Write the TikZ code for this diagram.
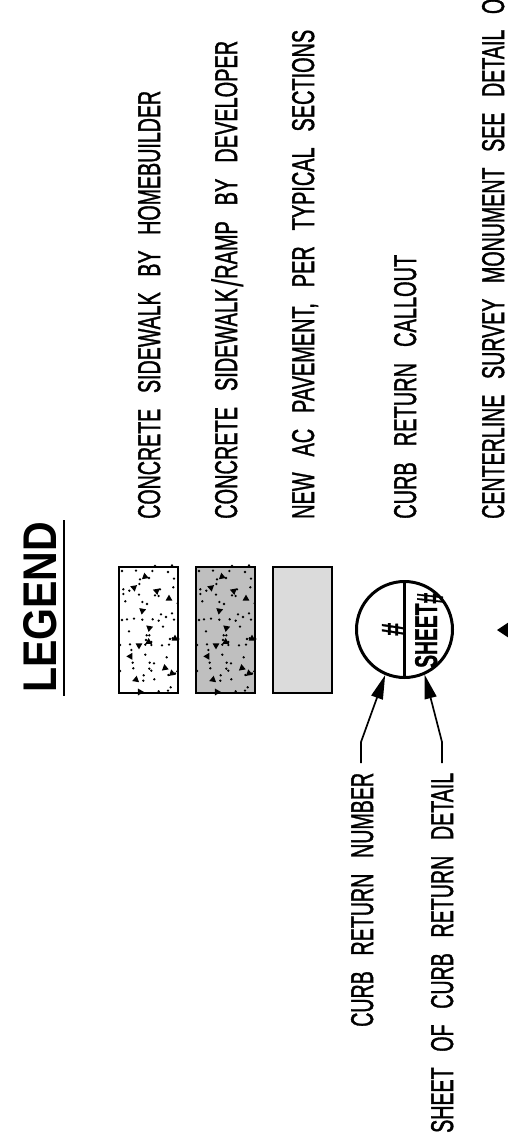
\documentclass[tikz,border=0pt]{standalone}
\usepackage{graphicx}
\usepackage{fontspec}
\usetikzlibrary{arrows.meta}
\setmainfont{Liberation Sans}[UprightFeatures={FakeBold=1.6},BoldFeatures={FakeBold=1.2}]
\newfontfamily\titlefont{Liberation Sans}
\newcommand{\cadtext}[3]{\resizebox{#1pt}{#2pt}{\spaceskip=.8em\relax #3}}
\newcommand{\stipple}{%
  \foreach \px/\py in {36/33,78/32,127/33,174/36,135/18,186/16,192/56,90/58,88/72,40/88,58/92,40/102,87/104,190/82,46/124,97/126,111/132,36/180,51/178,72/176,97/179,128/178,146/182,153/163,168/171,186/160,192/179,57/214,159/200,110/226,118/226,106/284,60/253,64/270,156/256,177/254,170/292,68/308,70/325,119/308,132/310,118/326,124/332,101/346,100/362,133/358,175/345,182/382,174/392,146/394,203/130,30/255,30/333,202/334,188/235,180/237,205/237,195/340,117/54,150/88,146/108,135/106,86/260,124/246,108/240,124/255,106/254}
    {\fill[grain] (\px,\py) circle (3.8);}
  \foreach \px/\py/\pr in {105/50/20,72/83/80,140/93/200,177/116/-90,97/152/-20,118/204/100,116/246/150,87/256/-30,195/236/30,61/289/-60,165/324/-100,186/340/20,78/359/40,90/396/0}
    {\fill[grain] ([shift={(\px,\py)}]\pr:12) -- ([shift={(\px,\py)}]\pr+120:12) -- ([shift={(\px,\py)}]\pr+240:12) -- cycle;}
}
\tikzset{
  legendbox/.style={draw=black,line width=1.7pt,minimum width=59pt,minimum height=126pt,inner sep=0pt},
  rottext/.style={rotate=90,anchor=base west,inner sep=0pt,text=black},
  grain/.style={black},
  leader/.style={draw=black,line width=1.7pt,-{Triangle[length=24pt,width=12pt]}},
  callout/.style={circle,draw=black,line width=3pt,minimum size=96pt,inner sep=0pt},
}
\begin{document}
\begin{tikzpicture}[x=1pt,y=-1pt]
\useasboundingbox (0,0) rectangle (508,1143);
\fill[white] (0,0) rectangle (508,1143);
\clip (0,0) rectangle (508,1143);

% title
\node[rottext] (title) at (56,693) {\cadtext{171}{33}{\titlefont\bfseries LEGEND}};
\draw[line width=2.2pt] (64,520) -- (64,696);

% swatches
\node[legendbox,fill=white] (swatchA) at (148.5,630) {};
\node[legendbox,fill=black!25] (swatchB) at (225.5,630) {};
\node[legendbox,fill=black!14] (swatchC) at (302.5,630) {};
\begin{scope}[shift={(110,560)},x=0.3333pt,y=-0.3333pt]
  \stipple
\end{scope}
\begin{scope}[shift={(187,560)},x=0.3333pt,y=-0.3333pt]
  \stipple
\end{scope}

% legend texts
\node[rottext] (txtA) at (160,519) {\cadtext{428}{22}{CONCRETE SIDEWALK BY HOMEBUILDER}};
\node[rottext] (txtB) at (237,519) {\cadtext{478}{22}{CONCRETE SIDEWALK\kern.4pt\smash{\raisebox{-2pt}{\scalebox{1.5}[1.4]{\titlefont /}}}\kern.4pt RAMP BY DEVELOPER}};
\node[rottext] (txtC) at (314,519) {\cadtext{489}{22}{NEW AC PAVEMENT, PER TYPICAL SECTIONS}};
\node[rottext] (txtD) at (416,519) {\cadtext{264}{22}{CURB RETURN CALLOUT}};
\node[rottext] (txtE) at (504,519) {\cadtext{520}{22}{CENTERLINE SURVEY MONUMENT SEE DETAIL O}};

% curb return callout
\node[callout] (ret) at (404.5,629.5) {};
\draw[line width=2.2pt] (ret.north) -- (ret.south);
\node[rottext] (retnum) at (404,636) {\cadtext{13}{22}{\bfseries\#}};
\node[rottext] (retsheet) at (437,668) {\cadtext{75}{22}{\bfseries SHEET\raisebox{-1.9pt}{\scalebox{1}[1.2]{\#}}}};

% callout labels and leaders
\node[rottext] (lblA) at (373,1027) {\cadtext{254}{22}{CURB RETURN NUMBER}};
\node[rottext] (lblB) at (453,1133) {\cadtext{360}{22}{SHEET OF CURB RETURN DETAIL}};
\coordinate (startA) at (361,763);
\coordinate (bendA) at (361,742);
\coordinate (startB) at (442,763);
\coordinate (bendB) at (442,742);
\draw[leader] (startA) -- (bendA) -- (ret.247);
\draw[leader] (startB) -- (bendB) -- (ret.294);

% survey monument symbol
\fill[black] (497,630) -- (512,620) -- (512,640) -- cycle;
\end{tikzpicture}
\end{document}
